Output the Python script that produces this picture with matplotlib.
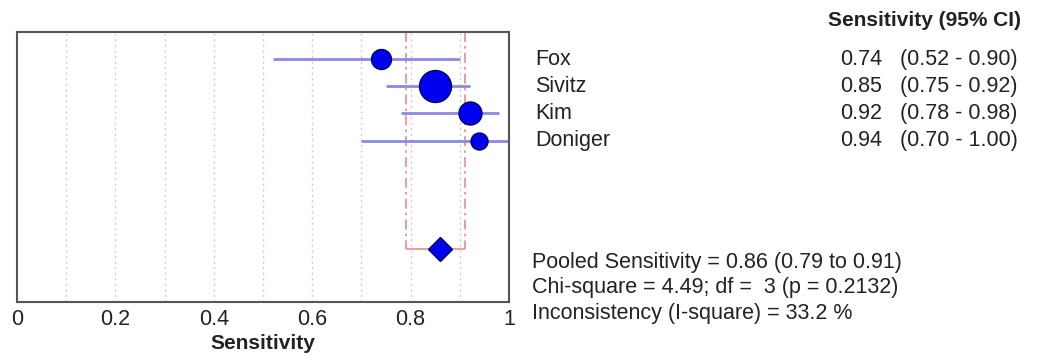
import numpy as np
import matplotlib.pyplot as plt
from matplotlib.transforms import blended_transform_factory

plt.rcParams['font.family'] = ['Liberation Sans', 'DejaVu Sans']

# study data (forest plot of sensitivity)
studies = ['Fox', 'Sivitz', 'Kim', 'Doniger']
sens = [0.74, 0.85, 0.92, 0.94]
ci_lo = [0.52, 0.75, 0.78, 0.70]
ci_hi = [0.90, 0.92, 0.98, 1.00]
weight = [17.8, 45.7, 23.6, 12.9]   # relative study weight (%)

pooled = 0.86
pooled_lo = 0.79
pooled_hi = 0.91

xticks = [0, 0.2, 0.4, 0.6, 0.8, 1]
xtick_labels = ['0', '0.2', '0.4', '0.6', '0.8', '1']

stats_lines = ['Pooled Sensitivity = 0.86 (0.79 to 0.91)',
               'Chi-square = 4.49; df =  3 (p = 0.2132)',
               'Inconsistency (I-square) = 33.2 %']

txt_col = '#222222'
fig = plt.figure(figsize=(10.37, 3.6), dpi=100)
ax = fig.add_axes([0.0164, 0.161, 0.4744, 0.750])

rows = np.arange(1, len(studies) + 1)
pooled_row = 8

# light dotted grid
for g in np.arange(0.1, 1.0, 0.1):
    ax.axvline(g, color='#cfcfcf', lw=1, ls=(0, (1.5, 2.5)), zorder=0)

# pooled CI (red dash-dot)
ax.vlines([pooled_lo, pooled_hi], 0, pooled_row, color='#e58c8c', lw=1.2,
          ls=(0, (6, 2.5, 1.5, 2.5)), zorder=1)
ax.hlines(pooled_row, pooled_lo, pooled_hi, color='#e58c8c', lw=1.2, zorder=1)

# study CIs and points
ax.hlines(rows, ci_lo, ci_hi, color='#8a8ae2', lw=2, zorder=2)
for r, s, w in zip(rows, sens, weight):
    d = 4.73 * np.sqrt(w) * 0.72
    ax.plot(s, r, 'o', ms=d, mfc='#0000f0', mec='#000060', mew=1, zorder=3)

ax.plot(pooled, pooled_row, 'D', ms=12, mfc='#0000f0', mec='#000060', mew=1, zorder=3)

ax.set_xlim(0, 1)
ax.set_ylim(9.95, 0)
ax.set_yticks([])
ax.set_xticks(xticks)
ax.set_xticklabels(xtick_labels, fontsize=15.5, color=txt_col)
ax.tick_params(axis='x', length=0, pad=5)
ax.set_xlabel('Sensitivity', fontsize=15, fontweight='bold', color=txt_col, labelpad=3)
for sp in ax.spines.values():
    sp.set_color('#555555')
    sp.set_linewidth(1.5)

# right-hand table
tr = blended_transform_factory(fig.transFigure, ax.transData)
fig.text(0.985, 0.942, 'Sensitivity (95% CI)', fontsize=15, fontweight='bold',
         ha='right', va='center', color=txt_col)
for r, name, s, lo, hi in zip(rows, studies, sens, ci_lo, ci_hi):
    ax.text(0.516, r, name, transform=tr, fontsize=15.5, ha='left', va='center',
            color=txt_col, clip_on=False)
    ax.text(0.8505, r, f'{s:.2f}', transform=tr, fontsize=15.5, ha='right',
            va='center', color=txt_col, clip_on=False)
    ax.text(0.868, r, f'({lo:.2f} - {hi:.2f})', transform=tr, fontsize=15.5,
            ha='left', va='center', color=txt_col, clip_on=False)

for y, line in zip([0.270, 0.201, 0.130], stats_lines):
    fig.text(0.513, y, line, fontsize=15.5, ha='left', va='center', color=txt_col)

fig.savefig('out.png', dpi=100)
